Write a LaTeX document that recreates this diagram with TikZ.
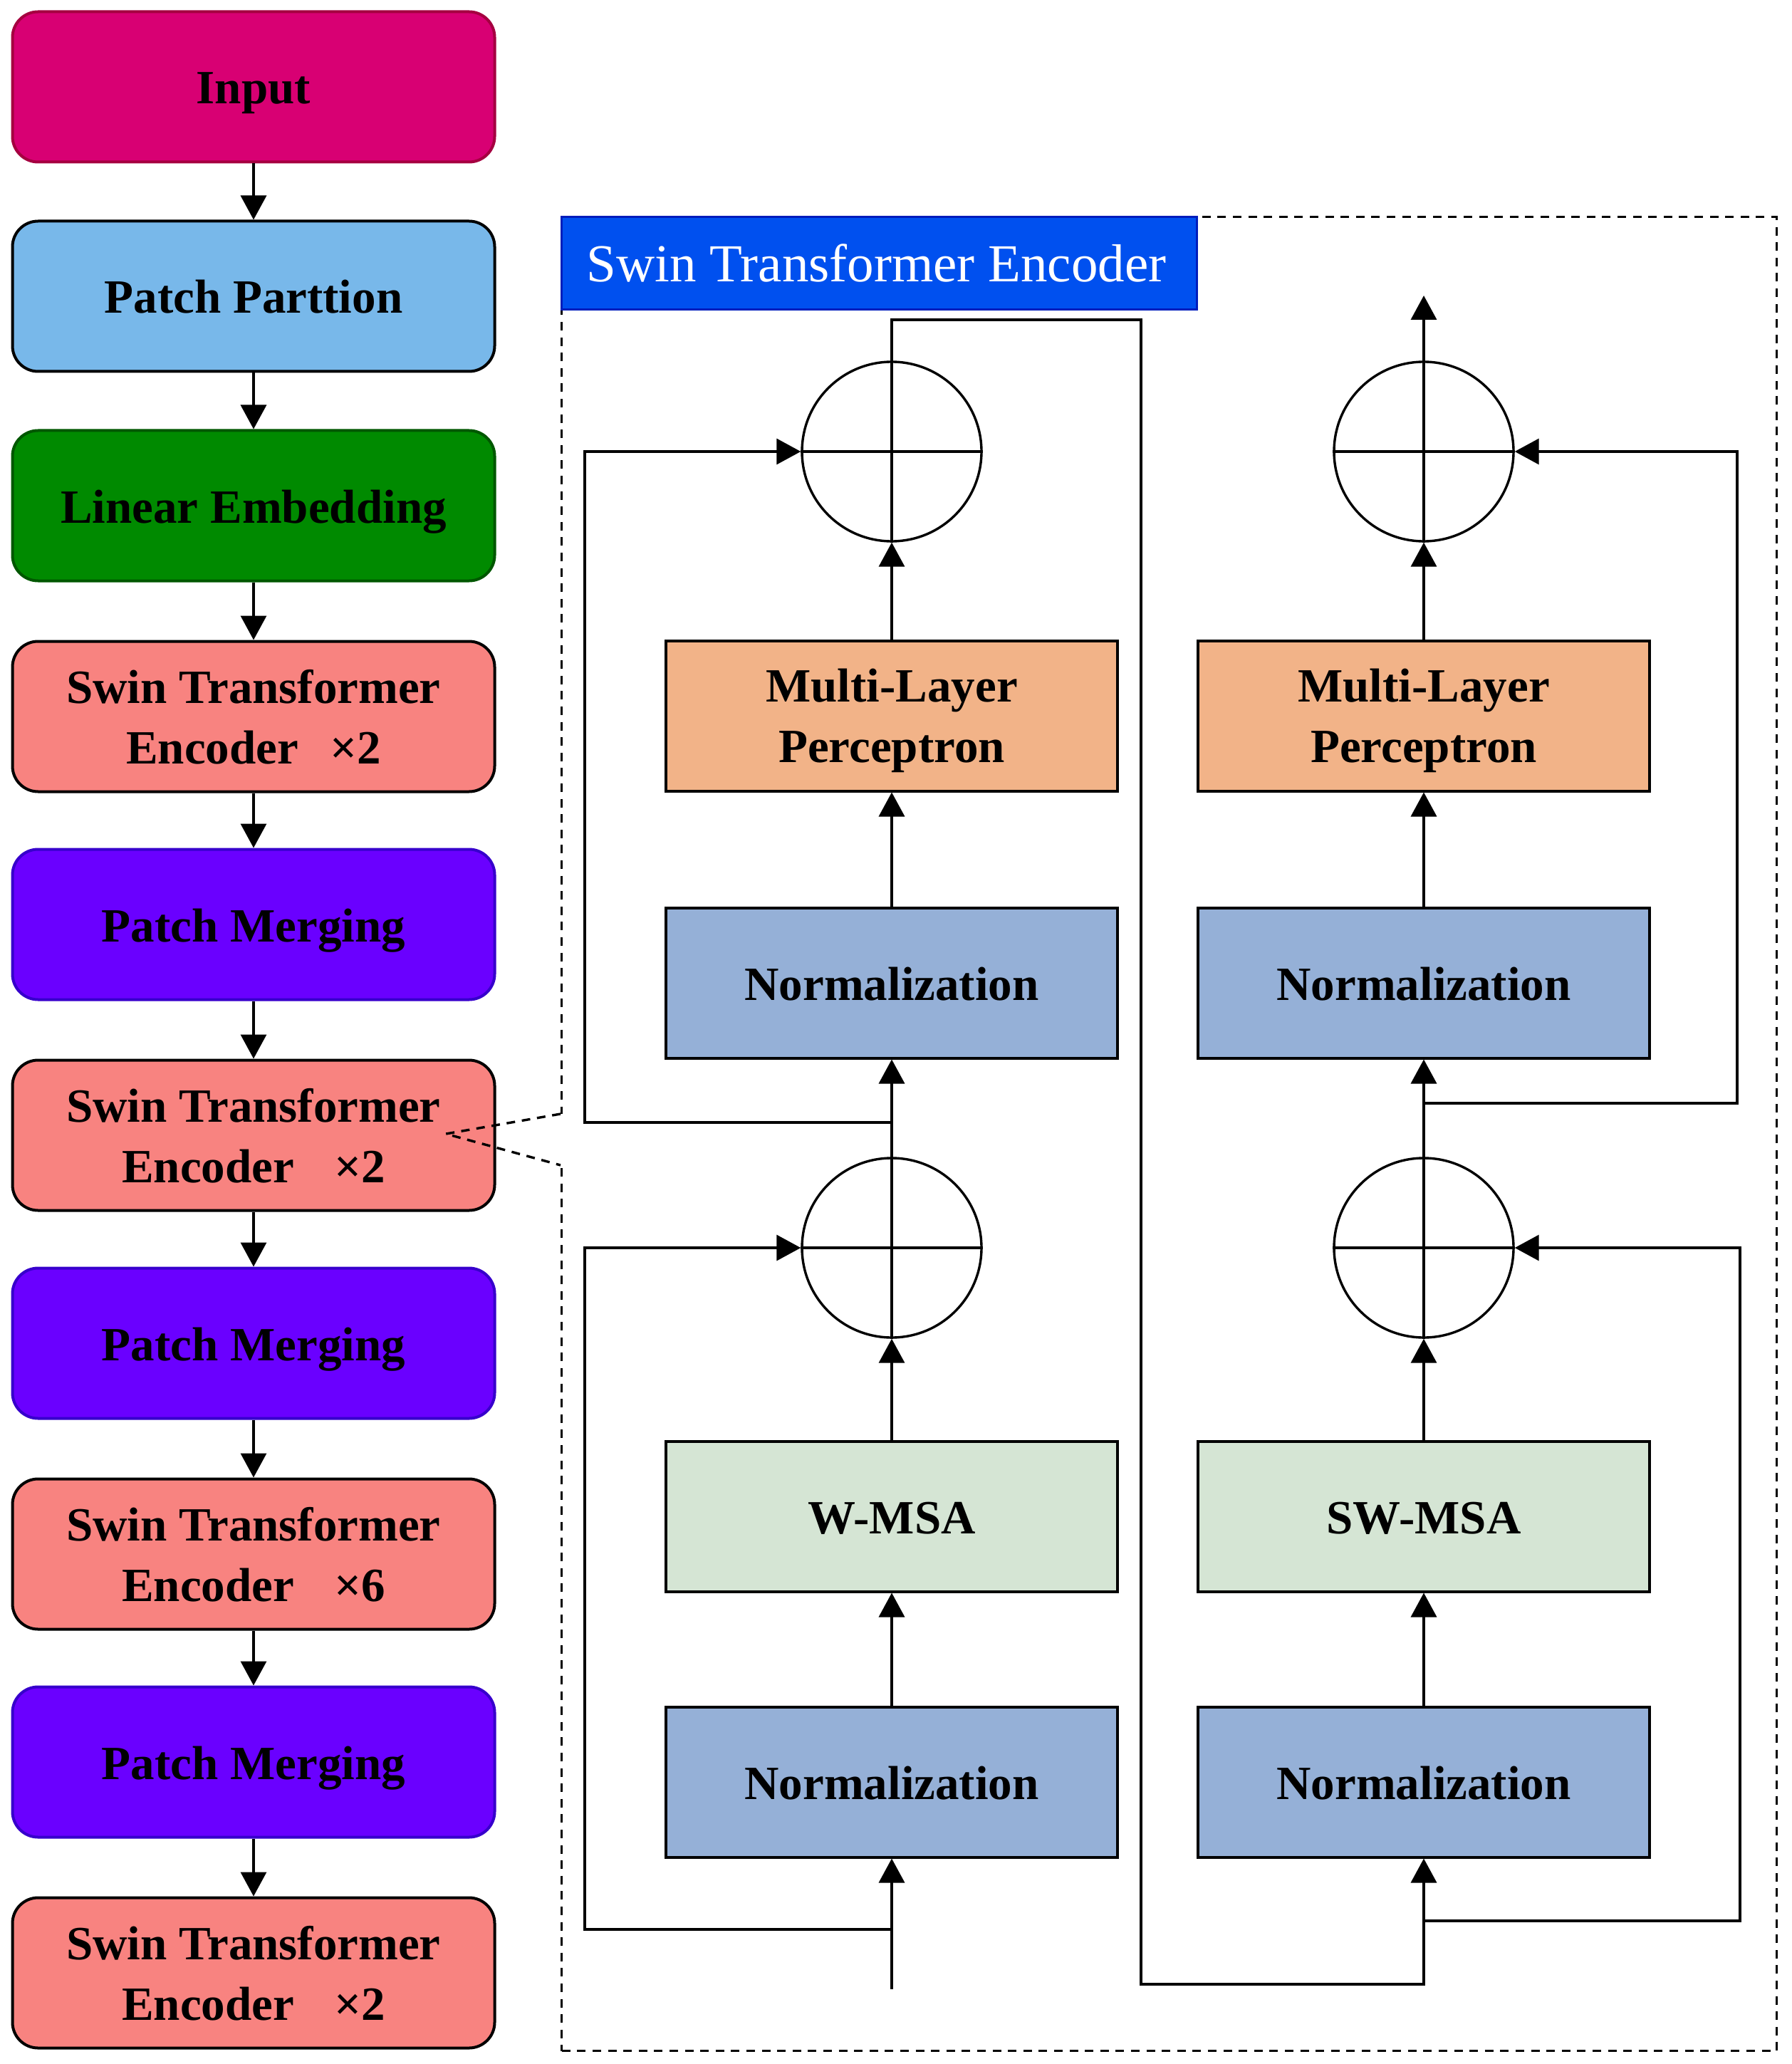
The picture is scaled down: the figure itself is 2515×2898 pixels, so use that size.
\documentclass[tikz,border=0pt]{standalone}
\usepackage{fontspec}
\setmainfont{Liberation Serif}
\usetikzlibrary{arrows.meta,calc}
\definecolor{cInput}{HTML}{D80073}
\definecolor{cInputB}{HTML}{A50040}
\definecolor{cPP}{HTML}{78B8EA}
\definecolor{cLE}{HTML}{008A00}
\definecolor{cLEB}{HTML}{005700}
\definecolor{cSTE}{HTML}{F88380}
\definecolor{cPM}{HTML}{6A00FF}
\definecolor{cPMB}{HTML}{3700CC}
\definecolor{cMLP}{HTML}{F2B388}
\definecolor{cNorm}{HTML}{95B0D7}
\definecolor{cMSA}{HTML}{D5E5D4}
\definecolor{cTitle}{HTML}{0050EF}
\definecolor{cTitleB}{HTML}{001DBC}
\begin{document}
\begin{tikzpicture}[x=0.25pt,y=-0.25pt,
  lbox/.style={rectangle, rounded corners=9pt, minimum width=169.25pt, minimum height=52.75pt,
    line width=1pt, draw=black, inner sep=0pt, align=center,
    font=\bfseries\fontsize{16.75pt}{21.25pt}\selectfont},
  rbox/.style={rectangle, minimum width=158.5pt, minimum height=52.75pt,
    line width=1pt, draw=black, inner sep=0pt, align=center,
    font=\bfseries\fontsize{16.75pt}{21.25pt}\selectfont},
  one/.style={text height=13pt, text depth=1pt},
  two/.style={text depth=0pt},
  circ/.style={circle, draw=black, line width=0.85pt, minimum size=63pt, inner sep=0pt},
  ln/.style={line width=0.85pt},
  arr/.style={line width=0.85pt, -{Triangle[length=8.5pt,width=9pt]}},
  dashline/.style={line width=0.85pt, dash pattern=on 3pt off 2.4pt}
]
\useasboundingbox (0,0) rectangle (2515,2898);

% left column
\node[lbox, one, fill=cInput, draw=cInputB] (in) at (356,122) {Input};
\node[lbox, one, fill=cPP] (pp) at (356,416) {Patch Parttion};
\node[lbox, one, fill=cLE, draw=cLEB] (le) at (356,710) {Linear Embedding};
\node[lbox, two, fill=cSTE] (s1) at (356,1006) {Swin Transformer\\Encoder\hspace{11pt}×2};
\node[lbox, one, fill=cPM, draw=cPMB] (m1) at (356,1298) {Patch Merging};
\node[lbox, two, fill=cSTE] (s2) at (356,1594) {Swin Transformer\\Encoder\hspace{14pt}×2};
\node[lbox, one, fill=cPM, draw=cPMB] (m2) at (356,1886) {Patch Merging};
\node[lbox, two, fill=cSTE] (s3) at (356,2182) {Swin Transformer\\Encoder\hspace{14pt}×6};
\node[lbox, one, fill=cPM, draw=cPMB] (m3) at (356,2474) {Patch Merging};
\node[lbox, two, fill=cSTE] (s4) at (356,2770) {Swin Transformer\\Encoder\hspace{14pt}×2};
\foreach \a/\b in {in/pp, pp/le, le/s1, s1/m1, m1/s2, s2/m2, m2/s3, s3/m3, m3/s4}
  \draw[arr] (\a.south) -- (\b.north);

% encoder frame
\node[draw=black, dashline, anchor=north west, minimum width=426.5pt, minimum height=643.75pt, inner sep=0pt] (enc) at (787,303) {};
\node[anchor=north west, fill=cTitle, draw=cTitleB, line width=0.8pt, text=white,
  minimum height=32.5pt, inner xsep=8.75pt, inner ysep=0pt,
  font=\fontsize{18.75pt}{22pt}\selectfont] (title) at (787,303) {\makebox[205.5pt][l]{Swin Transformer Encoder}};

\coordinate (dA) at (787,1564);
\coordinate (dB) at (787,1636);
\coordinate (dP) at (626,1592);
\draw[white, line width=2pt] (dA) -- (dB);
\draw[dashline] (dA) -- (dP) -- (dB);

% inner blocks, left
\node[rbox, two, fill=cMLP] (mlpL) at (1252,1005) {Multi-Layer\\Perceptron};
\node[rbox, one, fill=cNorm] (n2L) at (1252,1380) {Normalization};
\node[rbox, one, fill=cMSA] (msaL) at (1252,2129) {W-MSA};
\node[rbox, one, fill=cNorm] (n1L) at (1252,2502) {Normalization};
\node[circ] (c2L) at (1252,634) {};
\node[circ] (c1L) at (1252,1752) {};
% inner blocks, right
\node[rbox, two, fill=cMLP] (mlpR) at (1999,1005) {Multi-Layer\\Perceptron};
\node[rbox, one, fill=cNorm] (n2R) at (1999,1380) {Normalization};
\node[rbox, one, fill=cMSA] (msaR) at (1999,2129) {SW-MSA};
\node[rbox, one, fill=cNorm] (n1R) at (1999,2502) {Normalization};
\node[circ] (c2R) at (1999,634) {};
\node[circ] (c1R) at (1999,1752) {};

\foreach \c in {c1L,c2L,c1R,c2R}
  \draw[ln] (\c.west) -- (\c.east);

\coordinate (xL) at (821,0);
\coordinate (xB) at (1602,0);
\coordinate (xR) at (2443,0);
\coordinate (xR2) at (2439,0);

% left column connectors
\coordinate (inL) at (1252,2793);
\coordinate (bL1) at (1252,2709);
\coordinate (bL2) at (1252,1576);
\coordinate (tL) at (1252,449);
\coordinate (bM) at (1999,2786);
\draw[arr] (inL) -- (n1L.south);
\draw[arr] (bL1) -- (bL1 -| xL) |- (c1L.west);
\draw[arr] (n1L.north) -- (msaL.south);
\draw[arr] (msaL.north) -- (c1L.south);
\draw[arr] (c1L.south) -- (n2L.south);
\draw[arr] (bL2) -- (bL2 -| xL) |- (c2L.west);
\draw[arr] (n2L.north) -- (mlpL.south);
\draw[arr] (mlpL.north) -- (c2L.south);
\draw[arr] (c2L.south) -- (tL) -- (tL -| xB) -- (xB |- bM) -- (bM) -- (n1R.south);

% right column connectors
\coordinate (bR1) at (1999,2697);
\coordinate (bR2) at (1999,1549);
\coordinate (outR) at (1999,415);
\draw[arr] (bR1) -- (bR1 -| xR) |- (c1R.east);
\draw[arr] (n1R.north) -- (msaR.south);
\draw[arr] (msaR.north) -- (c1R.south);
\draw[arr] (c1R.south) -- (n2R.south);
\draw[arr] (bR2) -- (bR2 -| xR2) |- (c2R.east);
\draw[arr] (n2R.north) -- (mlpR.south);
\draw[arr] (mlpR.north) -- (c2R.south);
\draw[arr] (c2R.south) -- (outR);
\end{tikzpicture}
\end{document}
